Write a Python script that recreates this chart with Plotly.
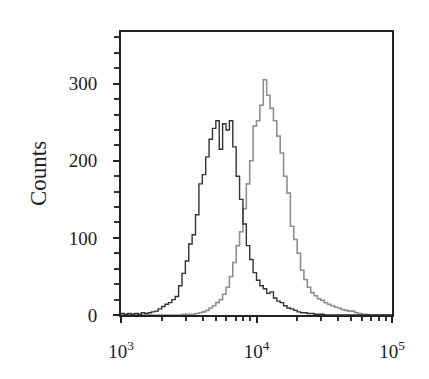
import plotly.graph_objects as go

# histogram channels (log10 of fluorescence intensity)
log_bins = [3.000, 3.025, 3.050, 3.075, 3.100, 3.125, 3.150, 3.175, 3.200, 3.225,
            3.250, 3.275, 3.300, 3.325, 3.350, 3.375, 3.400, 3.425, 3.450, 3.475,
            3.500, 3.525, 3.550, 3.575, 3.600, 3.625, 3.650, 3.675, 3.700, 3.725,
            3.750, 3.775, 3.800, 3.825, 3.850, 3.875, 3.900, 3.925, 3.950, 3.975,
            4.000, 4.025, 4.050, 4.075, 4.100, 4.125, 4.150, 4.175, 4.200, 4.225,
            4.250, 4.275, 4.300, 4.325, 4.350, 4.375, 4.400, 4.425, 4.450, 4.475,
            4.500, 4.525, 4.550, 4.575, 4.600, 4.625, 4.650, 4.675, 4.700, 4.725,
            4.750, 4.775, 4.800, 4.825, 4.850, 4.875, 4.900, 4.925, 4.950, 4.975, 5.000]

control_counts = [2, 1, 2, 1, 2, 1, 3, 2, 3, 4,
                  5, 8, 11, 14, 16, 20, 24, 38, 54, 70,
                  92, 104, 130, 170, 182, 205, 228, 242, 252, 215,
                  248, 240, 252, 218, 180, 150, 118, 90, 72, 55,
                  45, 38, 34, 28, 30, 22, 18, 16, 12, 9,
                  8, 6, 4, 3, 3, 2, 2, 1, 1, 1,
                  0, 0, 0, 0, 0, 0, 0, 0, 0, 0,
                  0, 0, 0, 0, 0, 0, 0, 0, 0, 0, 0]

stained_counts = [0, 0, 0, 0, 0, 0, 0, 0, 0, 0,
                  0, 0, 0, 0, 0, 0, 0, 0, 1, 1,
                  1, 1, 2, 3, 4, 6, 9, 12, 16, 20,
                  27, 36, 50, 68, 90, 108, 138, 170, 200, 245,
                  252, 272, 305, 285, 268, 252, 232, 210, 180, 158,
                  115, 98, 80, 58, 46, 36, 29, 25, 21, 19,
                  16, 14, 12, 10, 9, 7, 6, 5, 5, 3,
                  2, 1, 1, 0, 0, 0, 0, 0, 0, 0, 0]

x_tick_vals = [1e3, 1e4, 1e5]
x_tick_text = ["10<sup>3</sup>", "10<sup>4</sup>", "10<sup>5</sup>"]
x_minor_vals = [2e3, 3e3, 4e3, 5e3, 6e3, 7e3, 8e3, 9e3,
                2e4, 3e4, 4e4, 5e4, 6e4, 7e4, 8e4, 9e4]
y_tick_vals = [0, 100, 200, 300]

xs = [10 ** v for v in log_bins]

fig = go.Figure()
fig.add_trace(go.Scatter(x=xs, y=stained_counts, mode="lines", line_shape="hv",
                         line=dict(color="#8f8f8f", width=1.6), showlegend=False))
fig.add_trace(go.Scatter(x=xs, y=control_counts, mode="lines", line_shape="hv",
                         line=dict(color="#333333", width=1.4), showlegend=False))

font_family = "Liberation Serif"
fig.update_layout(
    width=421, height=371,
    margin=dict(l=113, r=37, t=24, b=64),
    paper_bgcolor="white", plot_bgcolor="white",
    font=dict(family=font_family, color="#222"),
)
fig.update_xaxes(
    type="log", range=[3, 5],
    tickmode="array", tickvals=x_tick_vals, ticktext=x_tick_text,
    ticks="outside", ticklen=6, tickwidth=2, tickcolor="#222",
    minor=dict(tickmode="array", tickvals=x_minor_vals, ticks="outside",
               ticklen=4, tickwidth=2, tickcolor="#333"),
    showline=True, linecolor="#222", linewidth=2, mirror=True,
    showgrid=False, zeroline=False,
    tickfont=dict(size=19, family=font_family),
    ticklabelstandoff=12,
)
fig.update_yaxes(
    range=[0, 367],
    tickmode="array", tickvals=y_tick_vals,
    ticks="outside", ticklen=6, tickwidth=2, tickcolor="#222",
    minor=dict(dtick=20, ticks="outside", ticklen=5, tickwidth=2, tickcolor="#333"),
    showline=True, linecolor="#222", linewidth=2, mirror=True,
    showgrid=False, zeroline=False,
    tickfont=dict(size=19, family=font_family),
    ticklabelstandoff=12,
    title=dict(text="Counts", font=dict(size=23, family=font_family), standoff=16),
)

fig.write_html("out.html")
